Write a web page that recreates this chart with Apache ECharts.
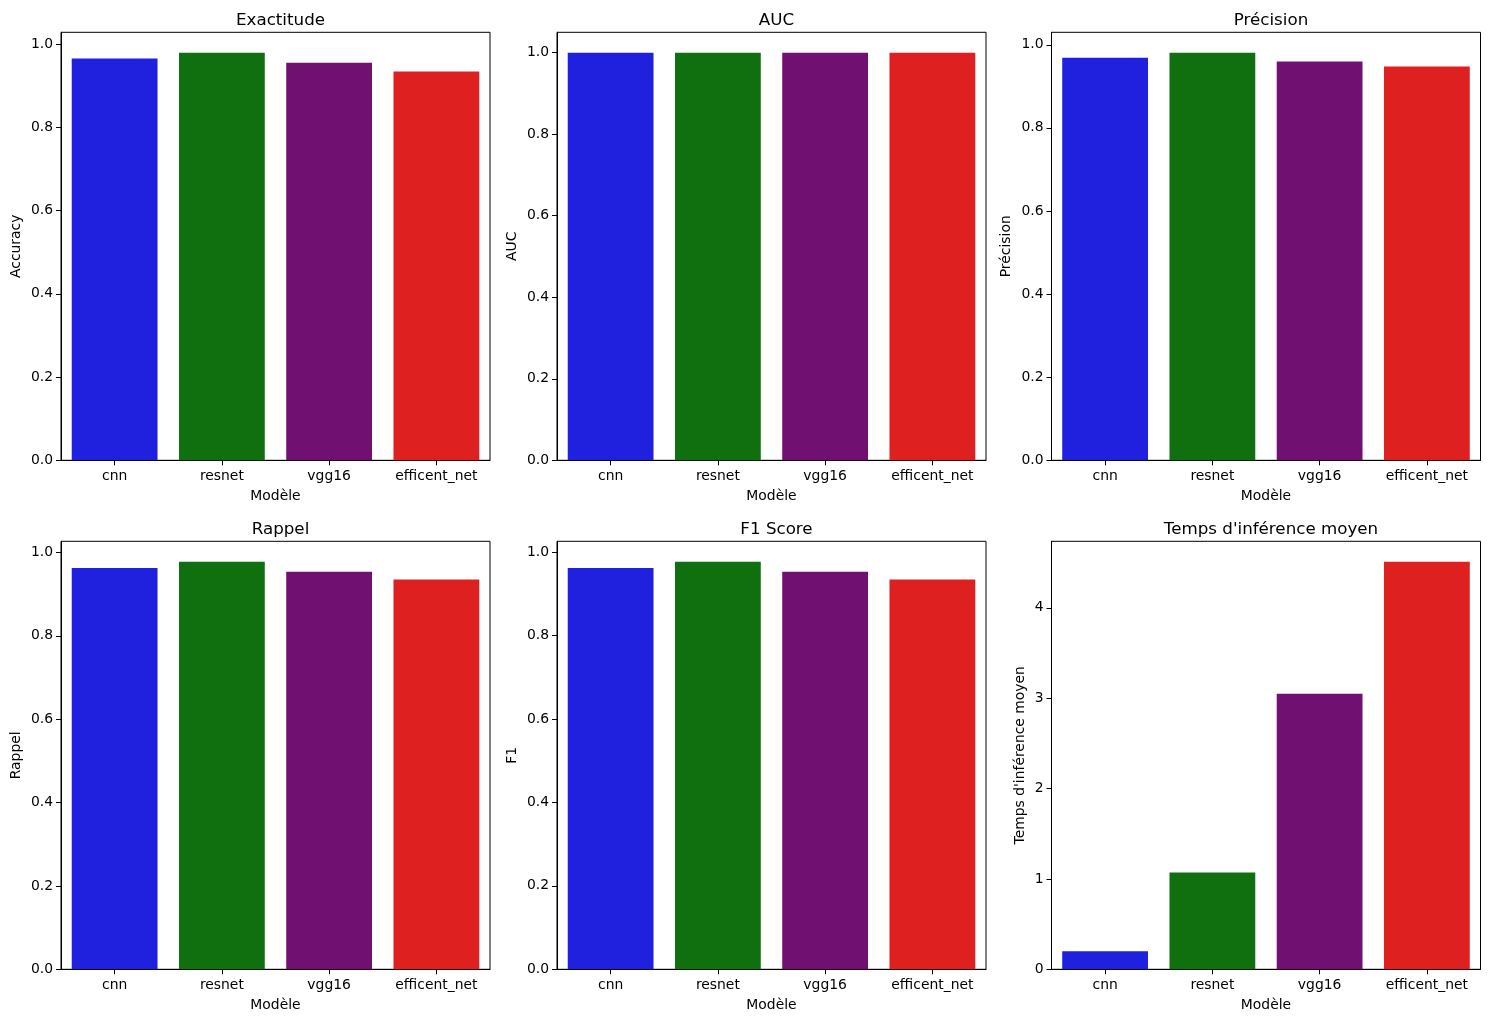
<!DOCTYPE html>
<html>
<head>
<meta charset="utf-8">
<script src="https://cdn.jsdelivr.net/npm/echarts@6/dist/echarts.min.js"></script>
<style>
html,body{margin:0;padding:0;background:#fff;}
#chart{width:1490px;height:1023px;}
</style>
</head>
<body>
<div id="chart"></div>
<script>
const models = ['cnn', 'resnet', 'vgg16', 'efficent_net'];
const accuracy = [0.965, 0.979, 0.955, 0.934];
const auc = [1.0, 1.0, 1.0, 1.0];
const precision = [0.969, 0.981, 0.960, 0.948];
const recall = [0.963, 0.978, 0.954, 0.935];
const f1 = [0.962, 0.977, 0.953, 0.934];
const inferenceTime = [0.20, 1.07, 3.05, 4.51];
const metricTicks = [0, 0.2, 0.4, 0.6, 0.8, 1.0];
const timeTicks = [0, 1, 2, 3, 4];
const barColors = ['#2020df', '#107010', '#701070', '#df2020'];

const panels = [
  {title: 'Exactitude', yName: 'Accuracy', data: accuracy, ticks: metricTicks, dec: 1, gap: 38},
  {title: 'AUC', yName: 'AUC', data: auc, ticks: metricTicks, dec: 1, gap: 38},
  {title: 'Précision', yName: 'Précision', data: precision, ticks: metricTicks, dec: 1, gap: 38},
  {title: 'Rappel', yName: 'Rappel', data: recall, ticks: metricTicks, dec: 1, gap: 38},
  {title: 'F1 Score', yName: 'F1', data: f1, ticks: metricTicks, dec: 1, gap: 38},
  {title: "Temps d'inférence moyen", yName: "Temps d'inférence moyen", data: inferenceTime, ticks: timeTicks, dec: 0, gap: 24}
];

const colLeft = [61, 557, 1051.5];
const rowTop = [32.3, 541.3];
const W = 429, H = 428;
const FONT = 'DejaVu Sans';

const grids = [], xAxes = [], yAxes = [], series = [], titles = [];
panels.forEach((p, i) => {
  const c = i % 3, r = Math.floor(i / 3);
  grids.push({left: colLeft[c], top: rowTop[r], width: W, height: H, show: true, borderColor: '#000', borderWidth: 1, backgroundColor: 'transparent', containLabel: false});
  titles.push({text: p.title, left: colLeft[c] + W / 2, top: rowTop[r] - 25.5, textAlign: 'center',
    textStyle: {fontFamily: FONT, fontSize: 16.7, fontWeight: 'normal', color: '#000'}});
  xAxes.push({type: 'category', gridIndex: i, data: models,
    name: 'Modèle', nameLocation: 'middle', nameGap: 29,
    nameTextStyle: {fontFamily: FONT, fontSize: 13.9, color: '#000'},
    axisLine: {show: true, lineStyle: {color: '#000', width: 1}},
    axisTick: {show: true, alignWithLabel: true, length: 5, lineStyle: {color: '#000'}},
    axisLabel: {fontFamily: FONT, fontSize: 13.9, color: '#000', margin: 9.5},
    splitLine: {show: false}});
  const dec = p.dec;
  yAxes.push({type: 'value', gridIndex: i, min: 0, max: v => v.max * 1.05,
    name: p.yName, nameLocation: 'middle', nameGap: p.gap,
    nameTextStyle: {fontFamily: FONT, fontSize: 13.9, color: '#000'},
    axisLine: {show: true, lineStyle: {color: '#000', width: 1}},
    axisTick: {show: true, length: 5, lineStyle: {color: '#000'}, customValues: p.ticks},
    axisLabel: {fontFamily: FONT, fontSize: 13.9, color: '#000', margin: 8, customValues: p.ticks,
      formatter: v => Number(v).toFixed(dec)},
    splitLine: {show: false}});
  series.push({type: 'bar', xAxisIndex: i, yAxisIndex: i, data: p.data, colorBy: 'data', color: barColors,
    barCategoryGap: '20%', animation: false});
});

const chart = echarts.init(document.getElementById('chart'), null, {renderer: 'canvas'});
chart.setOption({
  animation: false,
  backgroundColor: '#fff',
  title: titles,
  grid: grids,
  xAxis: xAxes,
  yAxis: yAxes,
  series: series
});
</script>
</body>
</html>
